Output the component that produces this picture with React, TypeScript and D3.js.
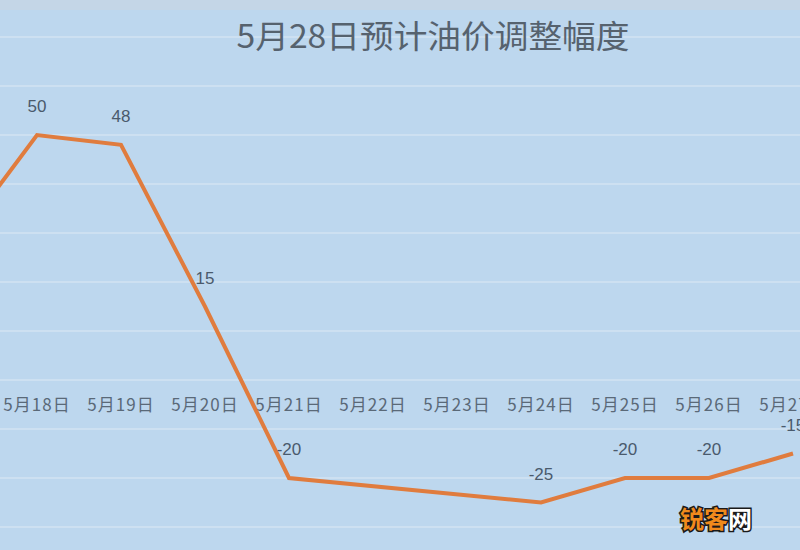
import * as d3 from 'd3';
import React from 'react';

// category axis (5/17 sits just off the left edge of the crop)
const days = ['5月17日', '5月18日', '5月19日', '5月20日', '5月21日', '5月22日', '5月23日', '5月24日', '5月25日', '5月26日', '5月27日'];
// empty cells are null, the line is connected across them
const values: (number | null)[] = [27, 50, 48, 15, -20, null, null, -25, -20, -20, -15];
const gridTicks = [-30, -20, -10, 0, 10, 20, 30, 40, 50, 60, 70];

const title = '5月28日预计油价调整幅度';

const W = 800;
const H = 550;

export default function App() {
  const x = d3.scalePoint<string>().domain(days).range([-47, 793]);
  const y = d3.scaleLinear().domain([-30, 70]).range([527, 37]);

  const pts = days
    .map((d, i) => ({ d, v: values[i] }))
    .filter((p) => p.v !== null) as { d: string; v: number }[];

  const line = d3
    .line<{ d: string; v: number }>()
    .x((p) => x(p.d) as number)
    .y((p) => y(p.v));

  return (
    <svg
      width={W}
      height={H}
      style={{ position: 'absolute', left: 0, top: 0, display: 'block' }}
    >
      <rect x={0} y={0} width={W} height={H} fill="#bdd7ee" />
      <rect x={0} y={0} width={W} height={10} fill="#c4d6e7" />

      {/* gridlines */}
      {gridTicks.map((t) => (
        <line
          key={t}
          x1={0}
          x2={W}
          y1={y(t)}
          y2={y(t)}
          stroke="#cde0f1"
          strokeWidth={2}
        />
      ))}

      <text
        x={433}
        y={48}
        textAnchor="middle"
        fontFamily="'Noto Sans CJK SC', sans-serif"
        fontSize={32}
        fill="#56626e"
        textLength={393}
        lengthAdjust="spacingAndGlyphs"
      >
        {title}
      </text>

      {/* category labels */}
      {days.map((d) => (
        <text
          key={d}
          x={x(d)}
          y={411}
          textAnchor="middle"
          fontFamily="'Noto Sans CJK SC', sans-serif"
          fontSize={17}
          letterSpacing={1}
          fill="#5a6978"
        >
          {d}
        </text>
      ))}

      <path
        d={line(pts) || ''}
        fill="none"
        stroke="#e07c3e"
        strokeWidth={4}
        strokeLinejoin="miter"
      />

      {/* data labels */}
      {pts.map((p) => (
        <text
          key={p.d}
          x={x(p.d)}
          y={y(p.v) - 23}
          textAnchor="middle"
          fontFamily="'Liberation Sans', sans-serif"
          fontSize={17}
          fill="#4a5a6c"
        >
          {p.v}
        </text>
      ))}

      {/* watermark */}
      <text
        x={680}
        y={528}
        fontFamily="'Noto Sans CJK SC', sans-serif"
        fontWeight={700}
        fontSize={24}
        stroke="#1a1a1a"
        strokeWidth={3}
        style={{ paintOrder: 'stroke' }}
      >
        <tspan fill="#f08a1c">锐客</tspan>
        <tspan fill="#ffffff">网</tspan>
      </text>
    </svg>
  );
}
